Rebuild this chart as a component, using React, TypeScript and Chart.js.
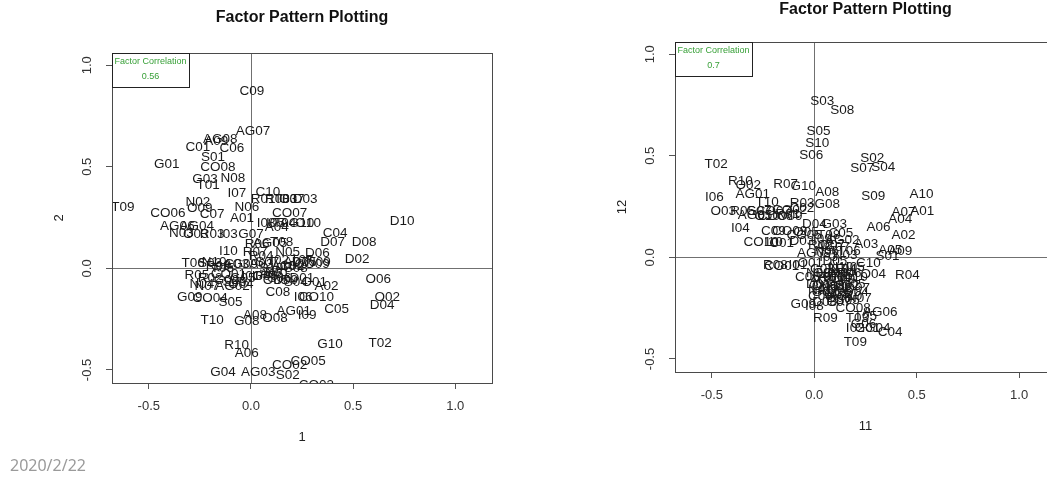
import React, { useEffect, useRef } from "react";
import { Chart, registerables } from "chart.js";

Chart.register(...registerables);

const FONT = "'Liberation Sans', Arial, Helvetica, sans-serif";

const titleText = "Factor Pattern Plotting";
const xTicks = [-0.5, 0, 0.5, 1.0];
const yTicks = [-0.5, 0, 0.5, 1.0];
const xRange = [-0.68, 1.18];
const yRange = [-0.564, 1.06];

const codes = [
  "A01", "A02", "A03", "A04", "A05", "A06", "A07", "A08", "A09", "A10",
  "AG01", "AG02", "AG03", "AG04", "AG05", "AG06", "AG07", "AG08", "AG09", "AG10",
  "C01", "C02", "C03", "C04", "C05", "C06", "C07", "C08", "C09", "C10",
  "CO01", "CO02", "CO03", "CO04", "CO05", "CO06", "CO07", "CO08", "CO09", "CO10",
  "D01", "D02", "D03", "D04", "D05", "D06", "D07", "D08", "D09", "D10",
  "G01", "G02", "G03", "G04", "G05", "G06", "G07", "G08", "G09", "G10",
  "I01", "I02", "I03", "I04", "I05", "I06", "I07", "I08", "I09", "I10",
  "N01", "N02", "N03", "N04", "N05", "N06", "N07", "N08", "N09", "N10",
  "O01", "O02", "O03", "O04", "O05", "O06", "O07", "O08", "O09", "O10",
  "R01", "R02", "R03", "R04", "R05", "R06", "R07", "R08", "R09", "R10",
  "S01", "S02", "S03", "S04", "S05", "S06", "S07", "S08", "S09", "S10",
  "T01", "T02", "T03", "T04", "T05", "T06", "T07", "T08", "T09", "T10",
];

// Left plot: factor 1 (x) vs factor 2 (y)
const leftX = [
  -0.044, 0.37, 0.05, 0.127, 0.10, -0.02, 0.22, 0.02, -0.17, 0.16,
  0.21, -0.09, 0.036, -0.265, 0.093, -0.36, 0.01, -0.15, -0.05, 0.225,
  -0.26, 0.2, -0.07, 0.412, 0.42, -0.093, -0.19, 0.132, 0.005, 0.083,
  -0.11, 0.19, 0.32, -0.2, 0.28, -0.407, 0.19, -0.162, 0.3, 0.32,
  0.25, 0.52, 0.265, 0.642, 0.26, 0.325, 0.4, 0.554, 0.17, 0.74,
  -0.412, -0.12, -0.225, -0.137, -0.04, 0.07, 0.0, -0.02, -0.3, 0.387,
  0.0, 0.14, -0.11, 0.05, 0.12, 0.255, -0.069, 0.075, 0.275, -0.11,
  0.13, -0.26, -0.34, -0.24, 0.18, -0.02, -0.215, -0.088, 0.33, -0.18,
  0.31, 0.667, -0.27, -0.05, 0.12, 0.623, 0.2, 0.118, -0.25, 0.28,
  0.06, -0.2, -0.19, 0.05, -0.265, 0.03, 0.02, 0.13, -0.16, -0.07,
  -0.186, 0.18, -0.2, 0.22, -0.1, 0.14, 0.08, 0.22, -0.08, 0.1,
  -0.21, 0.632, 0.17, 0.165, -0.14, -0.283, 0.25, 0.15, -0.627, -0.19,
];
const leftY = [
  0.247, -0.09, 0.02, 0.2, -0.03, -0.417, 0.03, -0.23, 0.625, 0.01,
  -0.21, -0.09, -0.51, 0.208, 0.124, 0.208, 0.675, 0.635, 0.02, 0.22,
  0.597, 0.01, 0.02, 0.173, -0.2, 0.59, 0.267, -0.117, 0.872, 0.375,
  -0.03, -0.476, -0.575, -0.147, -0.455, 0.272, 0.27, 0.498, 0.02, -0.14,
  -0.05, 0.045, 0.338, -0.18, 0.03, 0.075, 0.129, 0.129, -0.06, 0.233,
  0.513, -0.06, 0.44, -0.51, -0.05, -0.04, 0.17, -0.26, -0.14, -0.373,
  -0.04, 0.04, 0.17, -0.04, 0.22, -0.14, 0.37, 0.22, -0.23, 0.085,
  -0.02, 0.326, 0.173, -0.08, 0.08, 0.3, -0.09, 0.444, 0.031, 0.03,
  -0.07, -0.141, 0.17, -0.08, -0.06, -0.052, 0.34, -0.245, 0.296, 0.22,
  0.34, -0.05, 0.17, 0.06, -0.033, 0.12, 0.08, 0.34, 0.01, -0.377,
  0.547, -0.525, 0.027, -0.07, -0.165, -0.05, 0.03, 0.0, -0.07, 0.0,
  0.41, -0.368, 0.34, 0.22, 0.0, 0.027, 0.04, 0.13, 0.301, -0.255,
];

// Right plot: factor 11 (x) vs factor 12 (y)
const rightX = [
  0.527, 0.435, 0.254, 0.42, 0.371, 0.313, 0.435, 0.063, 0.42, 0.523,
  -0.3, 0.137, 0.06, 0.1, -0.29, 0.322, 0.09, 0.1, 0.0, 0.15,
  -0.16, -0.06, 0.04, 0.37, 0.13, -0.034, 0.12, 0.03, -0.2, 0.264,
  -0.16, -0.12, 0.08, 0.18, -0.05, -0.19, -0.2, 0.19, -0.12, -0.26,
  0.02, 0.16, -0.06, 0.0, 0.1, 0.12, 0.09, 0.05, 0.14, 0.2,
  0.26, 0.05, 0.098, 0.31, 0.16, 0.24, -0.27, 0.063, -0.054, -0.054,
  -0.08, 0.2, 0.07, -0.361, 0.2, -0.488, 0.11, 0.0, 0.04, -0.2,
  0.03, 0.12, 0.15, 0.14, 0.19, 0.06, 0.22, 0.09, 0.02, 0.13,
  -0.02, -0.322, -0.445, 0.288, -0.04, 0.05, 0.21, 0.11, -0.12, -0.23,
  -0.13, 0.03, -0.059, 0.454, -0.35, 0.17, -0.14, -0.19, 0.054, -0.361,
  0.357, 0.283, 0.039, 0.337, 0.02, -0.015, 0.234, 0.137, 0.288, 0.015,
  0.09, -0.479, 0.21, 0.15, 0.25, 0.17, 0.06, 0.07, 0.2, -0.23,
];
const rightY = [
  0.228, 0.11, 0.065, 0.188, 0.036, 0.149, 0.223, 0.321, 0.031, 0.311,
  0.311, 0.085, -0.12, -0.1, 0.205, -0.268, 0.05, -0.16, 0.02, -0.19,
  0.07, 0.24, -0.06, -0.37, 0.12, -0.097, -0.22, -0.19, 0.13, -0.028,
  -0.045, 0.23, -0.08, -0.17, 0.11, 0.2, 0.228, -0.25, 0.13, 0.075,
  -0.13, -0.14, 0.08, 0.165, -0.02, -0.2, 0.06, -0.22, -0.11, -0.1,
  -0.35, -0.17, 0.164, -0.35, -0.21, -0.33, 0.228, 0.262, -0.23, 0.351,
  -0.04, -0.35, 0.0, 0.144, -0.05, 0.296, -0.06, -0.24, 0.09, 0.075,
  -0.16, -0.15, 0.01, -0.08, -0.13, 0.03, -0.2, -0.14, -0.08, -0.05,
  -0.03, 0.356, 0.228, -0.082, 0.125, -0.14, -0.15, -0.18, 0.2, 0.2,
  0.21, 0.06, 0.267, -0.087, 0.228, -0.08, 0.36, -0.04, -0.3, 0.376,
  0.006, 0.488, 0.769, 0.444, 0.621, 0.503, 0.439, 0.724, 0.301, 0.562,
  -0.1, 0.459, -0.3, -0.06, -0.29, 0.03, -0.1, 0.11, -0.42, 0.27,
];

const leftCorr = "0.56";
const rightCorr = "0.7";

const factorPlugin = {
  id: "factorPlot",
  beforeDatasetsDraw(chart: any) {
    const { ctx, chartArea: a, scales } = chart;
    ctx.save();
    ctx.strokeStyle = "#707070";
    ctx.lineWidth = 1;
    const x0 = Math.round(scales.x.getPixelForValue(0)) + 0.5;
    const y0 = Math.round(scales.y.getPixelForValue(0)) + 0.5;
    ctx.beginPath();
    ctx.moveTo(x0, a.top);
    ctx.lineTo(x0, a.bottom);
    ctx.moveTo(a.left, y0);
    ctx.lineTo(a.right, y0);
    ctx.stroke();
    ctx.restore();
  },
  afterDatasetsDraw(chart: any, _args: any, opts: any) {
    const { ctx, chartArea: a } = chart;
    const meta = chart.getDatasetMeta(0);
    ctx.save();
    ctx.beginPath();
    ctx.rect(a.left, a.top, a.right - a.left, a.bottom - a.top);
    ctx.clip();
    ctx.font = `13.5px ${FONT}`;
    ctx.fillStyle = "#1a1a1a";
    ctx.textAlign = "center";
    ctx.textBaseline = "middle";
    meta.data.forEach((el: any, i: number) => {
      ctx.fillText(opts.labels[i], el.x, el.y);
    });
    ctx.restore();
  },
  afterDraw(chart: any, _args: any, opts: any) {
    const { ctx, chartArea: a } = chart;
    ctx.save();
    ctx.strokeStyle = "#4a4a4a";
    ctx.lineWidth = 1;
    ctx.strokeRect(Math.round(a.left) + 0.5, Math.round(a.top) + 0.5, Math.round(a.right - a.left), Math.round(a.bottom - a.top));
    // legend box (top-left)
    const lw = 77;
    const lh = 34;
    ctx.strokeStyle = "#222";
    ctx.strokeRect(Math.round(a.left) + 0.5, Math.round(a.top) + 0.5, lw, lh);
    ctx.fillStyle = "#38a038";
    ctx.font = `9px ${FONT}`;
    ctx.textAlign = "center";
    ctx.textBaseline = "middle";
    ctx.fillText("Factor Correlation", a.left + lw / 2, a.top + 9);
    ctx.fillText(opts.corr, a.left + lw / 2, a.top + 24);
    ctx.restore();
  },
};

type PlotProps = {
  xs: number[];
  ys: number[];
  corr: string;
  xTitle: string;
  yTitle: string;
  width: number;
  height: number;
  pad: { left: number; right: number; top: number; bottom: number };
  titlePad: { top: number; bottom: number };
  left: number;
};

function FactorPlot(p: PlotProps) {
  const ref = useRef<HTMLCanvasElement | null>(null);
  useEffect(() => {
    if (!ref.current) return;
    const tickFont = { family: FONT, size: 13 };
    const chart = new Chart(ref.current, {
      type: "scatter",
      data: {
        datasets: [
          {
            data: p.xs.map((x, i) => ({ x, y: p.ys[i] })),
            pointRadius: 0,
            pointHoverRadius: 0,
          },
        ],
      },
      options: {
        responsive: false,
        animation: false,
        events: [],
        layout: { padding: p.pad },
        scales: {
          x: {
            type: "linear",
            min: xRange[0],
            max: xRange[1],
            afterBuildTicks: (s: any) => {
              s.ticks = xTicks.map((v) => ({ value: v }));
            },
            afterFit: (s: any) => {
              s.height = 62;
            },
            ticks: {
              callback: (v: any) => Number(v).toFixed(1),
              font: tickFont,
              color: "#333",
              padding: 10,
              maxRotation: 0,
              autoSkip: false,
            },
            grid: {
              display: true,
              drawOnChartArea: false,
              drawTicks: true,
              tickLength: 6,
              color: "#555",
              tickColor: "#555",
            },
            border: { display: false },
            title: {
              display: true,
              text: p.xTitle,
              font: tickFont,
              color: "#222",
              padding: { top: 0, bottom: 0 },
            },
          },
          y: {
            type: "linear",
            min: yRange[0],
            max: yRange[1],
            afterBuildTicks: (s: any) => {
              s.ticks = yTicks.map((v) => ({ value: v }));
            },
            afterFit: (s: any) => {
              s.width = 62;
            },
            ticks: {
              callback: (v: any) => Number(v).toFixed(1),
              font: tickFont,
              color: "#333",
              padding: 7,
              minRotation: 90,
              maxRotation: 90,
              crossAlign: "center",
              autoSkip: false,
            },
            grid: {
              display: true,
              drawOnChartArea: false,
              drawTicks: true,
              tickLength: 6,
              color: "#555",
              tickColor: "#555",
            },
            border: { display: false },
            title: {
              display: true,
              text: p.yTitle,
              font: tickFont,
              color: "#222",
              padding: { top: 2, bottom: 0 },
            },
          },
        },
        plugins: {
          legend: { display: false },
          tooltip: { enabled: false },
          title: {
            display: true,
            text: titleText,
            fullSize: false,
            color: "#111",
            font: { family: FONT, size: 16, weight: "bold" },
            padding: p.titlePad,
          },
          factorPlot: { labels: codes, corr: p.corr },
        } as any,
      },
      plugins: [factorPlugin],
    } as any);
    return () => chart.destroy();
  }, []);
  return (
    <canvas
      ref={ref}
      width={p.width}
      height={p.height}
      style={{ position: "absolute", left: p.left, top: 0, width: p.width, height: p.height }}
    />
  );
}

export default function App() {
  return (
    <div
      style={{
        position: "fixed",
        left: 0,
        top: 0,
        width: 1047,
        height: 479,
        overflow: "hidden",
        background: "#fff",
      }}
    >
      <FactorPlot
        xs={leftX}
        ys={leftY}
        corr={leftCorr}
        xTitle="1"
        yTitle="2"
        width={523}
        height={479}
        left={0}
        pad={{ left: 50, right: 31, top: 0, bottom: 34 }}
        titlePad={{ top: 8.4, bottom: 25.4 }}
      />
      <FactorPlot
        xs={rightX}
        ys={rightY}
        corr={rightCorr}
        xTitle="11"
        yTitle="12"
        width={540}
        height={479}
        left={524}
        pad={{ left: 89, right: 8, top: 0, bottom: 45 }}
        titlePad={{ top: 0, bottom: 22.8 }}
      />
      <div
        style={{
          position: "absolute",
          left: 10,
          top: 455,
          fontFamily: "'Noto Sans', sans-serif",
          fontSize: 16,
          color: "#9a9a9a",
          lineHeight: "20px",
        }}
      >
        2020/2/22
      </div>
    </div>
  );
}
